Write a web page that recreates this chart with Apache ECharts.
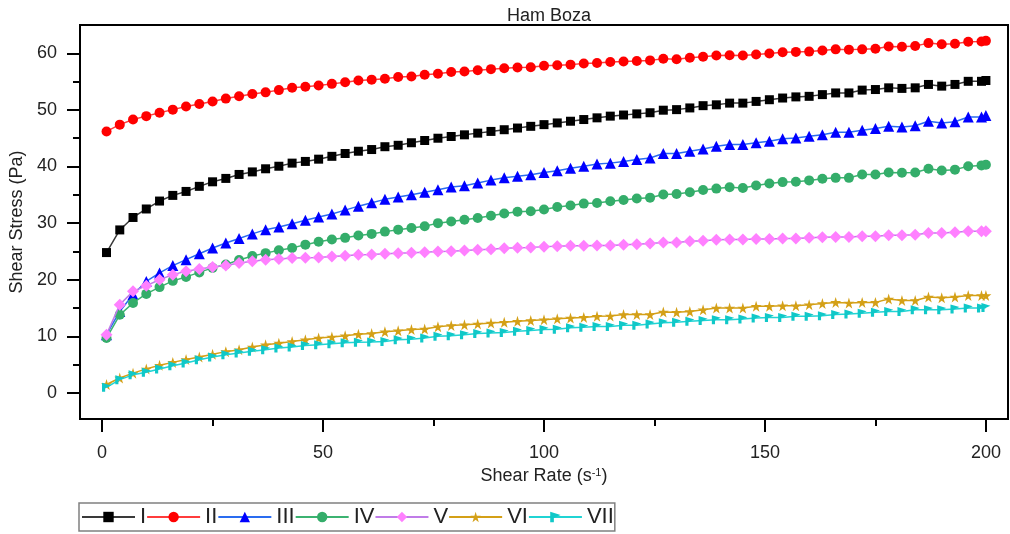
<!DOCTYPE html>
<html>
<head>
<meta charset="utf-8">
<script src="https://cdn.jsdelivr.net/npm/echarts@6/dist/echarts.min.js"></script>
<style>html,body{margin:0;padding:0;background:#fff}#c{width:1010px;height:534px}</style>
</head>
<body>
<div id="c"></div>
<script>
const title = 'Ham Boza';
const xName = 'Shear Rate (s{sup|-1})';
const yName = 'Shear Stress (Pa)';
const seriesNames = ['I','II','III','IV','V','VI','VII'];
const shearRate = [1,4,7,10,13,16,19,22,25,28,31,34,37,40,43,46,49,52,55,58,61,64,67,70,73,76,79,82,85,88,91,94,97,100,103,106,109,112,115,118,121,124,127,130,133,136,139,142,145,148,151,154,157,160,163,166,169,172,175,178,181,184,187,190,193,196,199,200];
const xTickLabels = [0,50,100,150,200];
const xMinorTicks = [25,75,125,175];
const yTickLabels = [0,10,20,30,40,50,60];
const yMinorTicks = [5,15,25,35,45,55];

const sI = [24.8,28.8,31.0,32.5,33.9,34.9,35.6,36.5,37.3,37.9,38.6,39.05,39.6,40.05,40.6,40.9,41.3,41.8,42.3,42.7,
43.0,43.5,43.75,44.2,44.6,45.0,45.3,45.6,45.9,46.2,46.5,46.8,47.1,47.4,47.7,48.0,48.3,48.6,48.9,49.1,49.3,49.5,49.95,
50.05,50.35,50.75,50.9,51.2,51.2,51.5,51.8,52.1,52.3,52.4,52.7,53.0,53.0,53.5,53.6,53.9,53.8,53.9,54.5,54.2,54.5,55.05,55.05,55.2];
const sII = [46.2,47.4,48.3,48.9,49.5,50.05,50.6,51.05,51.5,52.0,52.4,52.8,53.1,53.5,53.9,54.1,54.3,54.6,54.9,55.2,
55.35,55.5,55.8,55.9,56.2,56.4,56.7,56.8,57.0,57.2,57.35,57.5,57.55,57.8,57.9,58.0,58.2,58.3,58.45,58.55,58.65,58.75,59.05,
58.95,59.2,59.4,59.6,59.65,59.6,59.8,59.95,60.2,60.25,60.3,60.5,60.7,60.65,60.7,60.8,61.2,61.15,61.3,61.8,61.6,61.7,62.05,62.1,62.2];
const sIII = [10.3,14.4,17.4,19.7,21.2,22.5,23.55,24.6,25.6,26.5,27.3,28.1,28.85,29.3,29.9,30.5,31.1,31.6,32.3,33.0,
33.6,34.2,34.6,35.0,35.45,35.9,36.4,36.6,37.1,37.6,38.0,38.3,38.55,38.95,39.25,39.7,40.05,40.45,40.6,40.9,41.25,41.5,42.3,
42.3,42.7,43.1,43.6,43.9,43.9,44.2,44.45,44.9,45.05,45.35,45.6,46.05,46.05,46.4,46.7,47.1,47.0,47.2,48.0,47.7,47.9,48.75,48.75,49.0];
const sIV = [9.7,13.8,15.9,17.5,18.7,19.8,20.5,21.3,22.1,22.7,23.5,24.2,24.7,25.2,25.6,26.2,26.7,27.1,27.4,27.8,
28.1,28.5,28.85,29.15,29.45,30.0,30.3,30.6,30.9,31.3,31.7,32.0,32.1,32.4,32.85,33.1,33.45,33.55,33.85,34.1,34.35,34.5,35.05,
35.15,35.45,35.85,36.1,36.35,36.2,36.65,37.0,37.25,37.3,37.55,37.85,38.0,38.0,38.6,38.6,38.95,38.9,38.95,39.6,39.3,39.45,40.05,40.2,40.3];
const sV = [10.3,15.6,17.95,18.95,20.0,20.9,21.5,21.9,22.25,22.5,22.95,23.25,23.55,23.65,23.85,23.9,23.95,24.1,24.25,24.4,
24.45,24.6,24.7,24.75,24.85,25.0,25.05,25.15,25.3,25.4,25.55,25.65,25.7,25.85,25.9,26.0,26.0,26.05,26.05,26.2,26.25,26.4,26.6,
26.6,26.8,26.9,27.05,27.1,27.1,27.2,27.2,27.3,27.3,27.4,27.5,27.55,27.55,27.7,27.7,27.85,27.85,27.95,28.25,28.25,28.4,28.55,28.55,28.55];
const sVI = [1.5,2.65,3.5,4.25,4.9,5.4,5.9,6.35,6.85,7.3,7.65,8.1,8.5,8.8,9.1,9.4,9.7,9.9,10.1,10.35,
10.5,10.8,11.0,11.2,11.3,11.7,11.9,12.05,12.2,12.35,12.5,12.65,12.8,12.95,13.1,13.25,13.35,13.55,13.6,13.85,13.85,13.85,14.3,
14.25,14.4,14.7,15.0,15.0,15.0,15.3,15.3,15.4,15.4,15.6,15.8,16.0,15.9,16.0,16.0,16.6,16.35,16.35,16.95,16.8,16.95,17.2,17.2,17.2];
const sVII = [1.0,2.35,3.2,3.65,4.25,4.8,5.3,5.85,6.35,6.75,7.05,7.35,7.65,7.95,8.1,8.4,8.5,8.7,8.85,8.95,
9.0,9.1,9.4,9.5,9.7,10.0,10.1,10.3,10.5,10.6,10.7,10.9,11.05,11.2,11.25,11.5,11.6,11.75,11.75,11.95,11.95,12.2,12.4,
12.5,12.65,12.8,12.95,12.95,13.05,13.25,13.35,13.35,13.55,13.55,13.65,13.85,13.95,14.1,14.25,14.4,14.4,14.7,14.7,14.7,14.85,15.0,15.0,15.1];

const values = [sI, sII, sIII, sIV, sV, sVI, sVII];
const STAR = 'path://M50,0 L61,35 L98,35 L68,57 L79,91 L50,70 L21,91 L32,57 L2,35 L39,35 Z';
const FLAG = 'path://M0,0 L10,3 L3.5,6 L3.5,10 L0,10 Z';
const styles = [
  {line:'#3a3a3a', fill:'#000000', symbol:'rect', size:9},
  {line:'#ff3c3c', fill:'#ff0000', symbol:'circle', size:10},
  {line:'#2a6cf0', fill:'#0000ff', symbol:'triangle', size:11},
  {line:'#3cb371', fill:'#34ad6a', symbol:'circle', size:10},
  {line:'#c07ce8', fill:'#ff80ff', symbol:'diamond', size:12},
  {line:'#d4a017', fill:'#d4a017', symbol:STAR, size:11},
  {line:'#20d4d4', fill:'#10c8c8', symbol:FLAG, size:9}
];
const FONT = '"Liberation Sans", Arial, sans-serif';

const series = seriesNames.map((n, i) => ({
  name: n,
  type: 'line',
  xAxisIndex: 0, yAxisIndex: 0,
  data: shearRate.map((x, j) => [x, values[i][j]]),
  symbol: styles[i].symbol,
  symbolSize: styles[i].size,
  showAllSymbol: true,
  lineStyle: {color: styles[i].line, width: 1.5},
  itemStyle: {color: styles[i].fill, borderWidth: 0},
  emphasis: {disabled: true},
  z: 2 + i
}));

const chart = echarts.init(document.getElementById('c'), null, {renderer: 'canvas'});
chart.setOption({
  animation: false,
  backgroundColor: '#fff',
  title: {
    text: title, left: 544, top: 2, textAlign: 'center',
    textStyle: {fontFamily: FONT, fontSize: 18, fontWeight: 'normal', color: '#222'}
  },
  grid: {left: 80, right: 2, top: 25, bottom: 115, show: true, borderColor: '#000', borderWidth: 2, backgroundColor: 'transparent'},
  legend: {
    data: seriesNames,
    left: 79, top: 503,
    orient: 'horizontal',
    itemWidth: 53, itemHeight: 13, itemGap: 0,
    padding: [3, 1, 3, 2],
    borderColor: '#808080', borderWidth: 1.5,
    textStyle: {fontFamily: FONT, fontSize: 22, color: '#222'},
    selectedMode: false
  },
  xAxis: [
    {
      type: 'value', min: -5, max: 205,
      name: xName, nameLocation: 'middle', nameGap: 48,
      nameTextStyle: {fontFamily: FONT, fontSize: 18, color: '#222',
        rich: {sup: {fontFamily: FONT, fontSize: 11, color: '#222', verticalAlign: 'top', padding: [0, 0, 6, 0]}}},
      axisLine: {show: true, onZero: false, lineStyle: {color: '#000', width: 2}},
      axisTick: {show: true, inside: false, length: 13, customValues: xTickLabels, lineStyle: {color: '#000', width: 2}},
      axisLabel: {show: true, customValues: xTickLabels, margin: 25, fontFamily: FONT, fontSize: 18, color: '#222'},
      splitLine: {show: false}
    },
    {
      type: 'value', min: -5, max: 205, position: 'bottom',
      axisLine: {show: false, onZero: false},
      axisTick: {show: true, inside: false, length: 7, customValues: xMinorTicks, lineStyle: {color: '#000', width: 2}},
      axisLabel: {show: false},
      splitLine: {show: false}
    }
  ],
  yAxis: [
    {
      type: 'value', min: -4.6, max: 65,
      name: yName, nameLocation: 'middle', nameGap: 51, nameRotate: 90,
      nameTextStyle: {fontFamily: FONT, fontSize: 18, color: '#222'},
      axisLine: {show: true, onZero: false, lineStyle: {color: '#000', width: 2}},
      axisTick: {show: true, inside: false, length: 13, customValues: yTickLabels, lineStyle: {color: '#000', width: 2}},
      axisLabel: {show: true, customValues: yTickLabels, margin: 23, fontFamily: FONT, fontSize: 18, color: '#222'},
      splitLine: {show: false}
    },
    {
      type: 'value', min: -4.6, max: 65, position: 'left',
      axisLine: {show: false, onZero: false},
      axisTick: {show: true, inside: false, length: 7, customValues: yMinorTicks, lineStyle: {color: '#000', width: 2}},
      axisLabel: {show: false},
      splitLine: {show: false}
    }
  ],
  series: series
});
</script>
</body>
</html>
